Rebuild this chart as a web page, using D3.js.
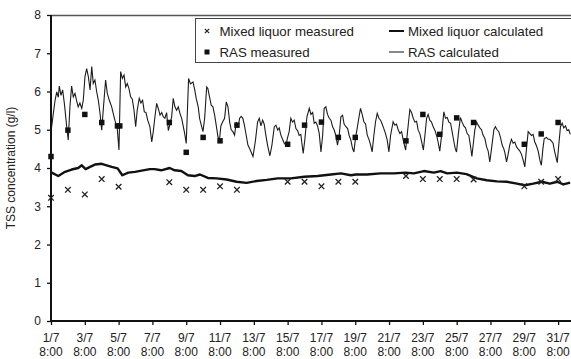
<!DOCTYPE html>
<html lang="en">
  <head>
    <meta charset="UTF-8" />
    <title>TSS concentration</title>
    <style>
      body { margin: 0; background: #fff; }
      svg { display: block; font-family: "Liberation Sans", Arial, sans-serif; }
      .line-path { fill: none; }
    </style>
  </head>
  <body>
    <script src="https://d3js.org/d3.v7.min.js"></script>
    <script>
      // days since 1/7 8:00
      const xTickDays = [0, 2, 4, 6, 8, 10, 12, 14, 16, 18, 20, 22, 24, 26, 28, 30];
      const xTickLabels = ["1/7", "3/7", "5/7", "7/7", "9/7", "11/7", "13/7", "15/7",
        "17/7", "19/7", "21/7", "23/7", "25/7", "27/7", "29/7", "31/7"];
      const yTicks = [0, 1, 2, 3, 4, 5, 6, 7, 8];

      const mlMeasured = [[0,3.22],[1,3.43],[2,3.31],[3,3.71],[4,3.51],[7,3.63],[8,3.43],[9,3.43],
        [10,3.52],[11,3.43],[14,3.64],[15,3.64],[16,3.52],[17,3.64],[18,3.64],[21,3.79],[22,3.71],
        [23,3.71],[24,3.71],[25,3.7],[28,3.52],[29,3.64],[30,3.71]];

      const rasMeasured = [[0,4.3],[1,4.99],[2,5.4],[3,5.19],[3.93,5.1],[4.07,5.1],[7,5.19],[8,4.41],
        [9,4.8],[10,4.71],[11,5.12],[14,4.62],[15,5.12],[16,5.2],[17,4.8],[18,4.8],[21,4.71],[22,5.4],
        [23,4.88],[24,5.31],[25,5.19],[28,4.62],[29,4.89],[30,5.19]];

      const mlCalculated = [[0.04,3.88],[0.43,3.79],[0.83,3.9],[1.22,3.96],[1.61,4.0],[1.82,4.07],
        [2.05,3.97],[2.31,4.03],[2.6,4.09],[3.0,4.11],[3.29,4.07],[3.59,4.03],[3.94,3.99],[4.22,3.81],
        [4.57,3.88],[4.97,3.9],[5.36,3.93],[5.85,3.97],[6.13,3.97],[6.52,3.94],[7.02,4.0],[7.32,3.94],
        [7.71,3.92],[8.1,3.81],[8.5,3.79],[8.81,3.83],[9.28,3.74],[9.8,3.73],[10.39,3.7],[10.98,3.64],
        [11.57,3.61],[12.16,3.66],[12.76,3.69],[13.41,3.73],[14.19,3.73],[14.98,3.77],[15.77,3.79],
        [16.56,3.83],[17.15,3.86],[17.74,3.81],[18.04,3.83],[18.7,3.83],[19.5,3.86],[20.28,3.86],
        [20.98,3.88],[21.47,3.86],[22.06,3.92],[22.65,3.88],[23.05,3.92],[23.44,3.86],[24.01,3.88],
        [24.58,3.84],[24.97,3.77],[25.19,3.73],[25.78,3.68],[26.38,3.65],[26.97,3.64],[27.56,3.59],
        [28.03,3.55],[28.53,3.59],[29.04,3.64],[29.51,3.59],[29.95,3.64],[30.31,3.57],[30.71,3.62]];

      const rasCalculated = [[0.0,4.95],[0.14,5.43],[0.24,5.77],[0.34,5.99],[0.43,5.85],[0.49,6.14],
        [0.59,5.9],[0.69,6.04],[0.79,5.69],[0.93,5.08],[1.02,4.73],[1.12,5.6],[1.22,6.14],[1.32,5.86],
        [1.42,5.95],[1.52,5.75],[1.61,5.6],[1.71,5.7],[1.82,5.56],[1.91,5.77],[2.01,6.39],[2.11,6.6],
        [2.21,6.39],[2.31,6.04],[2.41,6.65],[2.5,6.21],[2.6,6.3],[2.7,6.0],[2.8,5.77],[2.9,5.43],
        [3.0,4.99],[3.09,5.51],[3.23,6.3],[3.33,5.95],[3.45,5.77],[3.59,5.6],[3.68,5.43],[3.78,5.25],
        [3.92,5.03],[4.02,4.47],[4.12,6.52],[4.22,6.34],[4.32,6.43],[4.42,6.12],[4.51,6.21],[4.61,6.08],
        [4.71,5.86],[4.81,5.8],[4.91,5.51],[5.01,5.08],[5.1,5.51],[5.22,5.82],[5.32,5.7],[5.42,5.77],
        [5.52,5.47],[5.62,5.45],[5.72,5.25],[5.85,5.08],[5.96,4.68],[6.05,4.95],[6.15,5.34],[6.25,5.69],
        [6.35,5.55],[6.45,5.38],[6.55,5.45],[6.64,5.34],[6.74,5.3],[6.84,5.45],[6.94,4.98],[7.04,5.15],
        [7.14,5.34],[7.23,5.82],[7.33,5.6],[7.43,5.51],[7.53,5.6],[7.63,5.43],[7.73,5.3],[7.91,4.9],
        [8.0,4.64],[8.14,6.34],[8.25,6.2],[8.4,6.25],[8.5,6.05],[8.59,5.82],[8.71,5.6],[8.79,5.3],
        [8.89,5.12],[8.99,4.95],[9.09,5.3],[9.21,6.12],[9.28,6.08],[9.36,5.9],[9.48,5.64],[9.58,5.6],
        [9.68,5.38],[9.78,5.1],[9.88,4.81],[9.96,4.7],[10.05,5.1],[10.15,5.2],[10.27,5.3],[10.37,5.73],
        [10.47,5.6],[10.57,5.2],[10.66,5.0],[10.76,4.95],[10.86,4.86],[10.96,5.2],[11.06,5.05],
        [11.16,5.3],[11.25,5.35],[11.35,5.3],[11.45,5.1],[11.55,4.85],[11.65,4.6],[11.75,4.51],
        [11.95,4.3],[12.09,4.7],[12.22,5.2],[12.32,5.3],[12.42,5.1],[12.52,5.25],[12.61,5.15],
        [12.71,4.86],[12.81,4.6],[12.95,4.32],[13.07,4.6],[13.21,5.08],[13.31,5.12],[13.41,4.99],
        [13.5,5.05],[13.6,4.86],[13.7,4.75],[13.8,4.64],[13.9,4.6],[14.0,4.8],[14.09,4.95],[14.19,5.3],
        [14.29,5.2],[14.39,5.25],[14.49,5.03],[14.59,4.98],[14.68,4.85],[14.78,4.88],[14.92,4.38],
        [15.02,4.75],[15.14,5.34],[15.28,5.56],[15.38,5.4],[15.48,5.45],[15.57,5.17],[15.67,5.2],
        [15.77,5.1],[15.87,4.9],[15.97,4.42],[16.07,4.85],[16.16,5.56],[16.26,5.6],[16.36,5.4],
        [16.46,5.3],[16.56,5.25],[16.66,5.08],[16.75,5.0],[16.85,4.85],[16.95,4.6],[17.05,4.85],
        [17.15,5.34],[17.25,5.38],[17.34,5.15],[17.45,5.08],[17.55,5.03],[17.64,4.85],[17.74,4.73],
        [17.84,4.51],[17.92,4.42],[18.02,4.8],[18.11,5.03],[18.21,5.3],[18.31,5.56],[18.41,5.4],
        [18.51,5.21],[18.61,5.15],[18.71,4.86],[18.81,4.75],[18.91,4.6],[19.0,4.42],[19.1,4.85],
        [19.2,5.21],[19.3,5.43],[19.4,5.3],[19.5,5.25],[19.59,5.15],[19.69,5.03],[19.79,4.9],
        [19.89,4.73],[19.99,4.42],[20.09,4.85],[20.24,5.21],[20.34,5.12],[20.44,5.15],[20.54,5.0],
        [20.64,4.9],[20.74,4.95],[20.83,4.75],[20.98,4.47],[21.08,4.9],[21.23,5.53],[21.33,5.45],
        [21.43,5.3],[21.53,5.2],[21.63,5.22],[21.72,4.99],[21.82,4.9],[21.92,4.7],[22.03,4.47],
        [22.12,4.85],[22.22,5.3],[22.31,5.4],[22.41,5.25],[22.51,5.2],[22.61,5.08],[22.71,4.99],
        [22.81,4.85],[22.9,4.68],[23.0,4.44],[23.12,4.9],[23.24,5.47],[23.34,5.3],[23.44,5.32],
        [23.54,5.2],[23.64,5.17],[23.73,4.95],[23.83,4.7],[23.92,4.5],[23.99,4.42],[24.1,4.9],
        [24.22,5.32],[24.32,5.2],[24.42,5.1],[24.52,5.05],[24.62,4.9],[24.72,4.85],[24.81,4.6],
        [24.9,4.3],[25.0,4.7],[25.07,4.99],[25.18,5.2],[25.27,5.12],[25.37,5.05],[25.47,5.0],
        [25.56,4.86],[25.67,4.77],[25.77,4.55],[25.86,4.45],[25.96,4.16],[26.06,4.5],[26.2,5.0],
        [26.29,5.08],[26.39,5.0],[26.49,4.95],[26.59,4.8],[26.69,4.6],[26.79,4.5],[26.85,4.4],
        [26.95,4.16],[27.04,4.35],[27.14,4.6],[27.24,4.75],[27.34,4.65],[27.44,4.68],[27.54,4.55],
        [27.63,4.5],[27.73,4.45],[27.84,4.35],[27.93,4.21],[28.03,4.03],[28.13,4.5],[28.23,4.95],
        [28.33,4.9],[28.43,4.85],[28.52,4.88],[28.62,4.68],[28.72,4.58],[28.82,4.45],[28.92,4.21],
        [29.01,4.07],[29.1,4.5],[29.18,4.77],[29.31,4.8],[29.41,4.75],[29.51,4.75],[29.61,4.7],
        [29.7,4.65],[29.8,4.42],[29.95,4.14],[30.04,4.6],[30.14,5.08],[30.24,5.17],[30.34,5.05],
        [30.44,5.1],[30.53,4.98],[30.63,5.0],[30.72,4.88]];

      const legendItems = [
        { label: "Mixed liquor measured", kind: "x", col: 0, row: 0 },
        { label: "Mixed liquor calculated", kind: "thick", col: 1, row: 0 },
        { label: "RAS measured", kind: "square", col: 0, row: 1 },
        { label: "RAS calculated", kind: "thin", col: 1, row: 1 },
      ];

      function makeChart() {
        const W = 571, H = 359;
        const left = 51, top = 15, bottom = 321, right = 575;

        const svg = d3.select("body").append("svg")
          .attr("width", W).attr("height", H);

        const xScale = d3.scaleLinear().domain([0, 31]).range([left, right]);
        const yScale = d3.scaleLinear().domain([0, 8]).range([bottom, top]);

        svg.append("defs").append("clipPath").attr("id", "plot")
          .append("rect").attr("x", left).attr("y", top).attr("width", right - left).attr("height", bottom - top);

        // top frame line
        svg.append("line")
          .attr("x1", left).attr("x2", W).attr("y1", top + 0.5).attr("y2", top + 0.5)
          .attr("stroke", "#555").attr("stroke-width", 1.5);

        const line = d3.line().x((d) => xScale(d[0])).y((d) => yScale(d[1]));

        const plot = svg.append("g").attr("clip-path", "url(#plot)");

        plot.append("path")
          .attr("class", "line-path")
          .attr("d", line(rasCalculated))
          .attr("stroke", "#1c1c1c").attr("stroke-width", 1.1);

        plot.append("path")
          .attr("class", "line-path")
          .attr("d", line(mlCalculated))
          .attr("stroke", "#111").attr("stroke-width", 2.4)
          .attr("stroke-linejoin", "round");

        svg.append("g").selectAll("path").data(rasMeasured).join("path")
          .attr("transform", (d) => `translate(${xScale(d[0])},${yScale(d[1])})`)
          .attr("d", d3.symbol(d3.symbolSquare, 30))
          .attr("fill", "#111");

        svg.append("g").selectAll("path").data(mlMeasured).join("path")
          .attr("transform", (d) => `translate(${xScale(d[0])},${yScale(d[1])})`)
          .attr("d", d3.symbol(d3.symbolX, 22))
          .attr("fill", "none").attr("stroke", "#222").attr("stroke-width", 1.3);

        // axes
        const xAxis = d3.axisBottom(xScale).tickValues(xTickDays).tickSize(4).tickFormat("");
        const gx = svg.append("g").attr("transform", `translate(0,${bottom})`).call(xAxis);
        gx.select(".domain").remove();
        gx.selectAll(".tick line").attr("stroke", "#111").attr("stroke-width", 1.3);
        gx.append("line").attr("x1", left - 1).attr("x2", W).attr("y1", 0).attr("y2", 0)
          .attr("stroke", "#111").attr("stroke-width", 2);

        const labels = svg.append("g").attr("font-size", 12).attr("fill", "#222").attr("text-anchor", "middle");
        xTickDays.forEach((d, i) => {
          const t = labels.append("text").attr("x", xScale(d));
          t.append("tspan").attr("x", xScale(d)).attr("y", 341.5).text(xTickLabels[i]);
          t.append("tspan").attr("x", xScale(d)).attr("y", 355.5).text("8:00");
        });

        const yAxis = d3.axisLeft(yScale).tickValues(yTicks).tickSize(4).tickPadding(6);
        const gy = svg.append("g").attr("transform", `translate(${left},0)`).call(yAxis);
        gy.select(".domain").remove();
        gy.selectAll(".tick line").attr("stroke", "#111").attr("stroke-width", 1.3);
        gy.selectAll(".tick text").attr("font-size", 12).attr("fill", "#222")
          .attr("font-family", "'Liberation Sans', Arial, sans-serif");
        gy.append("line").attr("x1", 0).attr("x2", 0).attr("y1", top).attr("y2", bottom + 1)
          .attr("stroke", "#111").attr("stroke-width", 2);

        svg.append("text")
          .attr("transform", `translate(15,${(top + bottom) / 2}) rotate(-90)`)
          .attr("text-anchor", "middle").attr("font-size", 12).attr("fill", "#222")
          .text("TSS concentration (g/l)");

        // legend
        const lg = svg.append("g");
        lg.append("rect").attr("x", 195.5).attr("y", 18.5).attr("width", 400).attr("height", 44)
          .attr("fill", "#fff").attr("stroke", "#444").attr("stroke-width", 1);
        const colX = [207, 389];
        const rowY = [31, 52];
        legendItems.forEach((it) => {
          const cx = colX[it.col], cy = rowY[it.row];
          if (it.kind === "x") {
            lg.append("path").attr("transform", `translate(${cx},${cy})`)
              .attr("d", d3.symbol(d3.symbolX, 14)).attr("stroke", "#222").attr("stroke-width", 1.2);
          } else if (it.kind === "square") {
            lg.append("path").attr("transform", `translate(${cx},${cy})`)
              .attr("d", d3.symbol(d3.symbolSquare, 25)).attr("fill", "#111");
          } else {
            lg.append("line").attr("x1", cx).attr("x2", cx + 15).attr("y1", cy).attr("y2", cy)
              .attr("stroke", "#111").attr("stroke-width", it.kind === "thick" ? 2 : 1);
          }
          lg.append("text")
            .attr("x", it.col === 0 ? cx + 12.5 : cx + 19).attr("y", cy + 4.5)
            .attr("font-size", 13.3).attr("fill", "#222").text(it.label);
        });
      }

      makeChart();
    </script>
  </body>
</html>
